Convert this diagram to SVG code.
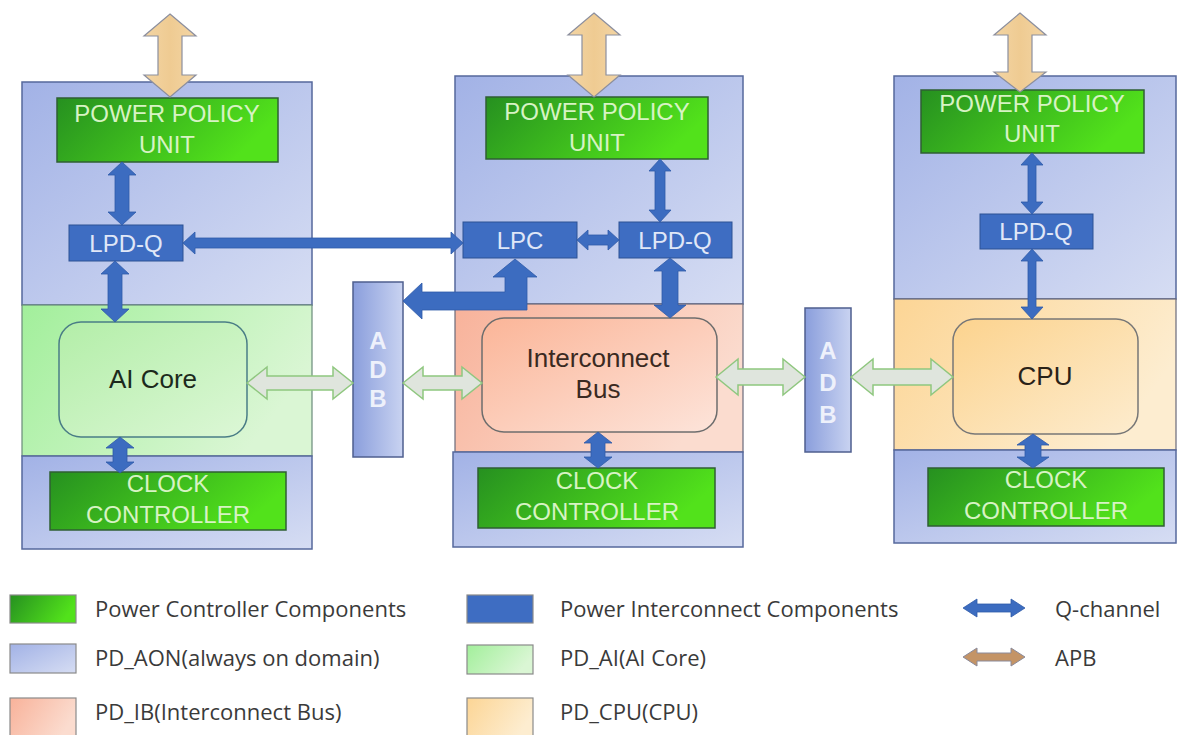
<svg xmlns="http://www.w3.org/2000/svg" width="1178" height="735" viewBox="0 0 1178 735">
<defs>
<linearGradient id="gAon" x1="0" y1="0" x2="1" y2="1"><stop offset="0" stop-color="#a2b2e6"/><stop offset="1" stop-color="#d6ddf3"/></linearGradient>
<linearGradient id="gGreen" x1="0" y1="0" x2="1" y2="0.3"><stop offset="0" stop-color="#269020"/><stop offset="1" stop-color="#52e21b"/></linearGradient>
<linearGradient id="gAI" x1="0" y1="0" x2="1" y2="0.4"><stop offset="0" stop-color="#a2ef9b"/><stop offset="1" stop-color="#daf6d4"/></linearGradient>
<linearGradient id="gAIc" x1="0" y1="0" x2="1" y2="1"><stop offset="0" stop-color="#b3eea8"/><stop offset="1" stop-color="#dcf7d6"/></linearGradient>
<linearGradient id="gIB" x1="0" y1="0" x2="1" y2="0.4"><stop offset="0" stop-color="#f8b29a"/><stop offset="1" stop-color="#fbdccf"/></linearGradient>
<linearGradient id="gIBc" x1="0" y1="0" x2="1" y2="1"><stop offset="0" stop-color="#fbb598"/><stop offset="1" stop-color="#fde4da"/></linearGradient>
<linearGradient id="gCPU" x1="0" y1="0" x2="1" y2="0.4"><stop offset="0" stop-color="#fcd595"/><stop offset="1" stop-color="#fdedd0"/></linearGradient>
<linearGradient id="gCPUc" x1="0" y1="0" x2="1" y2="1"><stop offset="0" stop-color="#fcd38e"/><stop offset="1" stop-color="#fdecce"/></linearGradient>
<linearGradient id="gADB" x1="0" y1="0" x2="1" y2="0"><stop offset="0" stop-color="#8a9edc"/><stop offset="1" stop-color="#c9d3f1"/></linearGradient>
<linearGradient id="gTan" x1="0" y1="0" x2="1" y2="0"><stop offset="0" stop-color="#f3d5a4"/><stop offset="0.5" stop-color="#efcb92"/><stop offset="1" stop-color="#f3d5a4"/></linearGradient>
</defs>
<style>
.aon{fill:url(#gAon);stroke:#56689c;stroke-width:1.5}
.pc{fill:url(#gGreen);stroke:#2f5f33;stroke-width:1.5}
.pic{fill:#3e6dc2;stroke:#2c5294;stroke-width:1}
.adb{fill:url(#gADB);stroke:#4f5f8f;stroke-width:1.5}
.q{fill:#3c6cc0;stroke:#2f5aa8;stroke-width:0.8}
.apb{fill:url(#gTan);stroke:#8c8f9e;stroke-width:1.2}
.hol{fill:#dfe5dd;stroke:#8fc77f;stroke-width:1.5}
.t{font-family:"Liberation Sans",Arial,sans-serif;text-anchor:middle}
.tg{fill:#d7f3c4;font-size:24px}
.tb{fill:#e0e7f7;font-size:24px}
.tc{font-size:26px}
.ta{fill:#eef1fb;font-size:24px;font-weight:bold}
.lg{font-family:"Open Sans","Noto Sans",sans-serif;font-size:22px;fill:#3a3a3a}
.sw{stroke:#8a8a8a;stroke-width:1.2}
</style>

<g id="domain-left">
<rect class="aon" x="22" y="82" width="290" height="223"/>
<rect x="22" y="305" width="290" height="151" fill="url(#gAI)" stroke="#6a8a7a" stroke-width="1.2"/>
<rect class="aon" x="22" y="456" width="290" height="93"/>
</g>
<g id="domain-mid">
<rect class="aon" x="455" y="76" width="288" height="228"/>
<rect x="455" y="304" width="288" height="148" fill="url(#gIB)" stroke="#6a6a7a" stroke-width="1.2"/>
<rect class="aon" x="453" y="452" width="290" height="95"/>
</g>
<g id="domain-right">
<rect class="aon" x="894" y="76" width="282" height="223"/>
<rect x="894" y="299" width="282" height="151" fill="url(#gCPU)" stroke="#6a6a7a" stroke-width="1.2"/>
<rect class="aon" x="894" y="450" width="282" height="93"/>
</g>

<g id="ppu-left"><rect class="pc" x="57" y="98" width="221" height="64"/>
<text class="t tg" x="167" y="122">POWER POLICY</text><text class="t tg" x="167" y="153">UNIT</text></g>
<g id="ppu-mid"><rect class="pc" x="486" y="97" width="222" height="62"/>
<text class="t tg" x="597" y="120">POWER POLICY</text><text class="t tg" x="597" y="151">UNIT</text></g>
<g id="ppu-right"><rect class="pc" x="921" y="90" width="223" height="63"/>
<text class="t tg" x="1032" y="112">POWER POLICY</text><text class="t tg" x="1032" y="142">UNIT</text></g>

<g id="lpdq-left"><rect class="pic" x="69" y="225" width="114" height="36"/>
<text class="t tb" x="126" y="252">LPD-Q</text></g>
<g id="lpc"><rect class="pic" x="463" y="222" width="114" height="36"/>
<text class="t tb" x="520" y="249">LPC</text></g>
<g id="lpdq-mid"><rect class="pic" x="619" y="222" width="113" height="36"/>
<text class="t tb" x="675" y="249">LPD-Q</text></g>
<g id="lpdq-right"><rect class="pic" x="980" y="214" width="113" height="35"/>
<text class="t tb" x="1036" y="240">LPD-Q</text></g>

<g id="ai-core"><rect x="59" y="322" width="188" height="115" rx="22" fill="url(#gAIc)" stroke="#4a7d86" stroke-width="1.5"/>
<text class="t tc" x="153" y="388" fill="#1c2a1c">AI Core</text></g>
<g id="interconnect-bus"><rect x="482" y="318" width="235" height="114" rx="22" fill="url(#gIBc)" stroke="#6d6d6d" stroke-width="1.5"/>
<text class="t tc" x="598" y="367" fill="#3a2a22">Interconnect</text><text class="t tc" x="598" y="398" fill="#3a2a22">Bus</text></g>
<g id="cpu"><rect x="953" y="319" width="185" height="115" rx="22" fill="url(#gCPUc)" stroke="#777" stroke-width="1.5"/>
<text class="t tc" x="1045" y="385" fill="#2a2218">CPU</text></g>

<g id="clock-left"><rect class="pc" x="50" y="472" width="236" height="58"/>
<text class="t tg" x="168" y="492">CLOCK</text><text class="t tg" x="168" y="523">CONTROLLER</text></g>
<g id="clock-mid"><rect class="pc" x="478" y="468" width="237" height="60"/>
<text class="t tg" x="597" y="489">CLOCK</text><text class="t tg" x="597" y="520">CONTROLLER</text></g>
<g id="clock-right"><rect class="pc" x="928" y="468" width="236" height="58"/>
<text class="t tg" x="1046" y="488">CLOCK</text><text class="t tg" x="1046" y="519">CONTROLLER</text></g>

<g id="adb-left"><rect class="adb" x="353" y="282" width="50" height="175"/>
<text class="t ta" x="378" y="349">A</text><text class="t ta" x="378" y="378">D</text><text class="t ta" x="378" y="407">B</text></g>
<g id="adb-right"><rect class="adb" x="805" y="308" width="46" height="144"/>
<text class="t ta" x="828" y="359">A</text><text class="t ta" x="828" y="391">D</text><text class="t ta" x="828" y="423">B</text></g>

<g id="connectors">
<polygon class="apb" points="170,14 196,36 182,36 182,75 196,75 170,97 144,75 158,75 158,36 144,36"/>
<polygon class="apb" points="594,13 620,35 606,35 606,75 620,75 594,97 568,75 582,75 582,35 568,35"/>
<polygon class="apb" points="1020,13 1046,35 1032,35 1032,72 1046,72 1020,92 994,72 1008,72 1008,35 994,35"/>

<polygon class="q" points="122,162 136,175 129,175 129,212 136,212 122,225 108,212 115,212 115,175 108,175"/>
<polygon class="q" points="115,261 129,274 122,274 122,309 129,309 115,322 101,309 108,309 108,274 101,274"/>
<polygon class="q" points="120,437 134,448 127,448 127,462 134,462 120,473 106,462 113,462 113,448 106,448"/>
<polygon class="q" points="183,243 195,232 195,238 451,238 451,232 463,243 451,254 451,248 195,248 195,254"/>
<polygon class="q" points="660,159 671,171 665,171 665,210 671,210 660,222 649,210 655,210 655,171 649,171"/>
<polygon class="q" points="577,240 588,230 588,235 608,235 608,230 619,240 608,250 608,245 588,245 588,250"/>
<polygon class="q" points="670,258 686,271 678,271 678,305 686,305 670,318 654,305 662,305 662,271 654,271"/>
<polygon class="q" points="598,432 612,443 605,443 605,457 612,457 598,468 584,457 591,457 591,443 584,443"/>
<polygon class="q" points="1032,153 1043,165 1036,165 1036,202 1043,202 1032,214 1021,202 1028,202 1028,165 1021,165"/>
<polygon class="q" points="1032,249 1043,261 1036,261 1036,307 1043,307 1032,319 1021,307 1028,307 1028,261 1021,261"/>
<polygon class="q" points="1033,434 1049,445 1041,445 1041,457 1049,457 1033,468 1017,457 1025,457 1025,445 1017,445"/>
<polygon class="q" points="403,301 422,283 422,292 505,292 505,277 493,277 515,259 537,277 527,277 527,310 422,310 422,319"/>

<polygon class="hol" points="247,383 267,367 267,376 333,376 333,367 353,383 333,399 333,390 267,390 267,399"/>
<polygon class="hol" points="403,383 423,367 423,376 462,376 462,367 482,383 462,399 462,390 423,390 423,399"/>
<polygon class="hol" points="716,377 738,359 738,369 783,369 783,359 805,377 783,395 783,385 738,385 738,395"/>
<polygon class="hol" points="851,377 873,359 873,369 931,369 931,359 953,377 931,395 931,385 873,385 873,395"/>
</g>

<g id="legend">
<rect class="sw" x="10" y="595" width="66" height="28" fill="url(#gGreen)"/>
<text class="lg" x="95" y="617">Power Controller Components</text>
<rect class="sw" x="467" y="595" width="66" height="28" fill="#3e6dc2"/>
<text class="lg" x="560" y="617">Power Interconnect Components</text>
<polygon class="q" points="963,608 977,599 977,604 1011,604 1011,599 1025,608 1011,617 1011,612 977,612 977,617"/>
<text class="lg" x="1055" y="617">Q-channel</text>

<rect class="sw" x="10" y="644" width="66" height="29" fill="url(#gAon)"/>
<text class="lg" x="95" y="666">PD_AON(always on domain)</text>
<rect class="sw" x="467" y="645" width="66" height="29" fill="url(#gAI)"/>
<text class="lg" x="560" y="666">PD_AI(AI Core)</text>
<polygon points="963,657 977,648 977,653 1011,653 1011,648 1025,657 1011,666 1011,661 977,661 977,666" fill="#c49466" stroke="#8a8a9a" stroke-width="1"/>
<text class="lg" x="1055" y="666">APB</text>

<rect class="sw" x="10" y="698" width="66" height="40" fill="url(#gIB)"/>
<text class="lg" x="95" y="720">PD_IB(Interconnect Bus)</text>
<rect class="sw" x="467" y="698" width="66" height="40" fill="url(#gCPU)"/>
<text class="lg" x="560" y="720">PD_CPU(CPU)</text>
</g>
</svg>
